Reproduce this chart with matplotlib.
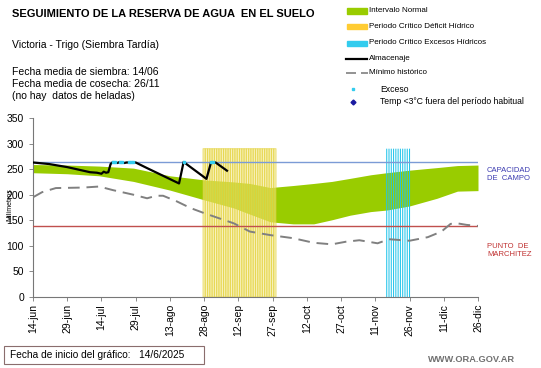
import matplotlib
matplotlib.use("Agg")
import matplotlib.pyplot as plt
from matplotlib.lines import Line2D
from matplotlib.patches import Rectangle

plt.rcParams['font.family'] = ['Liberation Sans', 'DejaVu Sans']

# ---------------------------------------------------------------------------
# data (days counted from 14-jun)
tick_days = list(range(0, 196, 15))
tick_labels = ['14-jun', '29-jun', '14-jul', '29-jul', '13-ago', '28-ago',
               '12-sep', '27-sep', '12-oct', '27-oct', '11-nov', '26-nov',
               '11-dic', '26-dic']

capacidad = 263
marchitez = 138

band_days = [0, 15, 29, 44, 60, 75, 88, 95, 104, 114, 123, 131, 139, 148,
             155, 165, 177, 186, 195]
band_upper = [259, 258, 256, 252, 237, 229, 225, 222, 214, 218, 222, 226,
              232, 239, 243, 248, 253, 257, 258]
band_lower = [243, 241, 237, 226, 209, 190, 174, 162, 147, 143, 143, 151,
              160, 167, 170, 178, 193, 207, 208]

min_days = [0, 4, 10, 22, 29, 35, 44, 50, 54, 57, 63, 69, 75, 88, 95, 104,
            114, 123, 131, 137, 143, 151, 156, 165, 173, 179, 183, 186, 190,
            195]
min_vals = [195, 205, 213, 214, 216, 209, 200, 193, 198, 198, 187, 174, 164,
            144, 128, 121, 115, 106, 103, 108, 111, 105, 113, 110, 117, 128,
            143, 144, 141, 139]

alm_days = [0, 7, 15, 25, 28, 30, 31, 32, 33, 34, 35, 37, 38, 40, 41, 43,
            45, 50, 64, 66, 76, 78, 80, 85]
alm_vals = [263, 260, 254, 244, 243, 241, 245, 243, 244, 260, 264, 262, 264,
            262, 263, 263, 263, 252, 222, 264, 231, 263, 263, 247]

exceso_days = [35, 36, 38, 39, 42, 43, 44, 66, 78, 79]
exceso_vals = [264, 264, 264, 264, 264, 264, 264, 264, 264, 264]

deficit_days = list(range(75, 107))
deficit_vals = [290] * len(deficit_days)
excesos_days = list(range(155, 166))
excesos_vals = [290] * len(excesos_days)

# ---------------------------------------------------------------------------
fig = plt.figure(figsize=(5.41, 3.68), dpi=100)
ax = fig.add_axes([33 / 541, 71 / 368, 445 / 541, 179 / 368])

ax.fill_between(band_days, band_lower, band_upper, color='#99cc00',
                linewidth=0, zorder=1)
ax.bar(deficit_days, deficit_vals, width=1.0, color='#f3e88a', alpha=0.55,
       edgecolor='#e2cf2e', linewidth=0.8, zorder=2, snap=False)
ax.bar(excesos_days, excesos_vals, width=0.45, color='#22c4ea',
       linewidth=0, zorder=2, snap=False)
ax.axhline(capacidad, color='#7b9bd6', lw=1.0, zorder=3)
ax.axhline(marchitez, color='#c0504d', lw=1.0, zorder=3)
ax.plot(min_days, min_vals, color='#808080', lw=1.4, dashes=(6, 3.5),
        zorder=3)
ax.plot(alm_days, alm_vals, color='black', lw=1.6, zorder=4)
ax.plot(exceso_days, exceso_vals, ls='none', marker='s', ms=1.8,
        color='#33ccee', zorder=5)

ax.set_xlim(0, 195)
ax.set_ylim(0, 350)
ax.set_xticks(tick_days)
ax.set_xticklabels(tick_labels, rotation=90, fontsize=7.5)
ax.set_yticks(range(0, 351, 50))
ax.tick_params(axis='y', labelsize=7.5, length=3, width=0.6, color='#777777')
ax.tick_params(axis='x', length=3, width=0.6, color='#777777', pad=2)
for s in ['top', 'right']:
    ax.spines[s].set_visible(False)
for s in ['left', 'bottom']:
    ax.spines[s].set_color('#777777')
    ax.spines[s].set_linewidth(0.8)


def fx(px):
    return px / 541


def fy(py):
    return 1 - py / 368


fig.text(fx(10), fy(205), 'Milímetros', fontsize=5, rotation=90,
         ha='center', va='center')

# right side labels
fig.text(fx(487), fy(174), 'CAPACIDAD\nDE  CAMPO', color='#3b3bb0',
         fontsize=5.5, va='center', linespacing=1.2)
fig.text(fx(487), fy(251), 'PUNTO  DE\nMARCHITEZ', color='#c03030',
         fontsize=5.5, va='center', linespacing=1.2)

# header texts
fig.text(fx(12), fy(14), 'SEGUIMIENTO DE LA RESERVA DE AGUA  EN EL SUELO',
         fontsize=8, fontweight='bold', va='center')
fig.text(fx(12), fy(45), 'Victoria - Trigo (Siembra Tardía)',
         fontsize=7.5, va='center')
fig.text(fx(12), fy(84),
         'Fecha media de siembra: 14/06\nFecha media de cosecha: 26/11\n'
         '(no hay  datos de heladas)',
         fontsize=7.5, va='center', linespacing=1.3)

# legend drawn by hand
rows = [(11, 'Intervalo Normal'), (26, 'Periodo Crítico Déficit Hídrico'),
        (43, 'Periodo Crítico Excesos Hídricos')]
colors = ['#99cc00', '#ffcc33', '#33ccee']
for (py, txt), c in zip(rows, colors):
    fig.add_artist(Rectangle((fx(347), fy(py + 2.5)), fx(20), 5 / 368,
                             color=c, transform=fig.transFigure))
    fig.text(fx(369), fy(py), txt, fontsize=5.8, va='center')
fig.add_artist(Line2D([fx(346), fx(367)], [fy(59), fy(59)], color='black',
                      lw=1.6, transform=fig.transFigure))
fig.text(fx(369), fy(59), 'Almacenaje', fontsize=5.8, va='center')
fig.add_artist(Line2D([fx(346), fx(368)], [fy(73), fy(73)], color='#808080',
                      lw=1.2, dashes=(6, 3), transform=fig.transFigure))
fig.text(fx(369), fy(73), 'Mínimo histórico', fontsize=5.8, va='center')
fig.add_artist(Line2D([fx(353)], [fy(89)], ls='none', marker='s', ms=2,
                      color='#33ccee', transform=fig.transFigure))
fig.text(fx(380), fy(89), 'Exceso', fontsize=6.2, va='center')
fig.add_artist(Line2D([fx(353)], [fy(102)], ls='none', marker='D', ms=2.5,
                      color='#1a1aa0', transform=fig.transFigure))
fig.text(fx(380), fy(102), 'Temp <3°C fuera del período habitual',
         fontsize=6.2, va='center')

# footer
fig.add_artist(Rectangle((fx(4), fy(364)), fx(200), 18 / 368, fc='white',
                         ec='#8a6d6d', lw=0.8, transform=fig.transFigure))
fig.text(fx(10), fy(355), 'Fecha de inicio del gráfico:   14/6/2025',
         fontsize=7.3, va='center')
fig.text(fx(515), fy(360), 'WWW.ORA.GOV.AR', fontsize=6.7, color='#707070',
         fontweight='bold', ha='right', va='center')

fig.savefig('out.png', dpi=100)
